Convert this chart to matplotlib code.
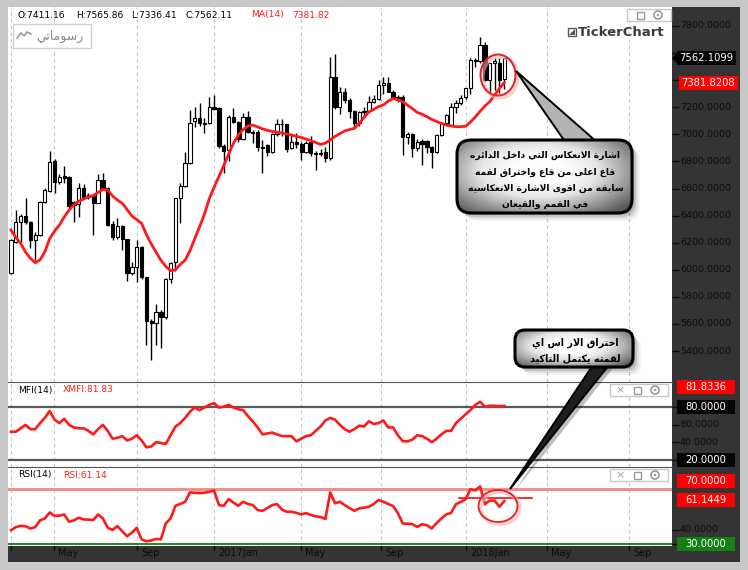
import numpy as np
import matplotlib
matplotlib.use("Agg")
import matplotlib.pyplot as plt
import matplotlib.transforms as mtransforms
from matplotlib.patches import Rectangle, FancyBboxPatch, Ellipse, Polygon
from matplotlib.colors import LinearSegmentedColormap

# ---------------- data (weekly candles) ----------------
open_ = [5976, 6207, 6355, 6397, 6355, 6220, 6257, 6502, 6580, 6803,
         6650, 6690, 6687, 6500, 6485, 6604, 6550, 6545, 6495, 6663,
         6604, 6338, 6244, 6325, 6225, 5974, 6018, 6170, 5944, 5624,
         5610, 5690, 5649, 5932, 6060, 6528, 6620, 6790, 7095, 7118,
         7086, 7086, 7204, 7196, 6914, 6884, 7130, 7093, 6968, 7130,
         7020, 7020, 6909, 6920, 6872, 7000, 7074, 7074, 6897, 6946,
         6930, 6872, 6940, 6860, 6858, 6872, 6823, 7426, 7204, 7315,
         7254, 7172, 7081, 7167, 7175, 7241, 7262, 7364, 7377, 7315,
         7278, 7278, 6982, 7000, 6897, 6950, 6950, 6909, 6872, 6995,
         7081, 7070, 7204, 7230, 7278, 7340, 7549, 7540, 7660, 7401,
         7525, 7525, 7411.16]
high = [6230, 6441, 6412, 6527, 6360, 6280, 6510, 6604, 6877, 6818,
        6710, 6766, 6695, 6510, 6643, 6636, 6570, 6555, 6710, 6717,
        6610, 6360, 6380, 6330, 6230, 6060, 6220, 6175, 5950, 5640,
        5750, 5700, 5940, 6060, 6530, 6640, 6870, 7180, 7204, 7229,
        7120, 7273, 7290, 7200, 6930, 7140, 7192, 7100, 7160, 7170,
        7030, 7030, 6958, 6930, 7010, 7110, 7110, 7080, 7000, 7010,
        6940, 6950, 6985, 6880, 6890, 6910, 7573, 7590, 7350, 7340,
        7270, 7180, 7170, 7200, 7280, 7290, 7400, 7420, 7420, 7330,
        7290, 7290, 7020, 7010, 6965, 6965, 6960, 6915, 7000, 7090,
        7150, 7230, 7250, 7290, 7345, 7560, 7560, 7721, 7680, 7530,
        7560, 7560, 7565.86]
low = [5970, 6200, 6205, 6340, 6160, 6072, 6250, 6495, 6575, 6567,
       6630, 6640, 6441, 6355, 6392, 6530, 6520, 6257, 6490, 6600,
       6320, 6220, 6230, 6146, 5917, 5960, 5910, 5930, 5444, 5333,
       5444, 5420, 5640, 5900, 5990, 6347, 6610, 6780, 7055, 7060,
       7010, 7080, 7180, 6900, 6714, 6800, 7085, 6940, 6960, 7010,
       6935, 6880, 6712, 6840, 6865, 6990, 6990, 6870, 6890, 6900,
       6810, 6860, 6840, 6740, 6840, 6795, 6810, 7190, 7150, 7230,
       7120, 7040, 7060, 7130, 7165, 7230, 7255, 7300, 7310, 7260,
       7240, 6847, 6930, 6835, 6880, 6773, 6860, 6749, 6865, 6990,
       7060, 7060, 7160, 7220, 7260, 7300, 7500, 7530, 7395, 7305,
       7330, 7305, 7336.41]
close = [6220, 6350, 6397, 6350, 6220, 6257, 6502, 6589, 6798, 6650,
         6687, 6680, 6471, 6478, 6604, 6537, 6537, 6495, 6663, 6604,
         6330, 6244, 6325, 6225, 5974, 6018, 6170, 5944, 5624, 5610,
         5690, 5649, 5932, 6052, 6528, 6620, 6790, 7086, 7118, 7086,
         7080, 7204, 7190, 6914, 6877, 7130, 7093, 6968, 7130, 7020,
         7010, 6909, 6900, 6872, 7000, 7074, 7080, 6890, 6946, 6930,
         6872, 6934, 6860, 6855, 6855, 6823, 7426, 7204, 7315, 7254,
         7172, 7081, 7167, 7175, 7241, 7262, 7364, 7377, 7315, 7278,
         7255, 6982, 7000, 6897, 6940, 6930, 6909, 6872, 6995, 7081,
         7143, 7204, 7230, 7266, 7340, 7549, 7540, 7660, 7401, 7525,
         7540, 7401, 7562.1099]
ma14 = [6293, 6240, 6195, 6130, 6085, 6052, 6072, 6133, 6230, 6285,
        6330, 6390, 6440, 6480, 6505, 6522, 6538, 6548, 6570, 6594,
        6589, 6545, 6515, 6491, 6445, 6397, 6370, 6343, 6260, 6190,
        6130, 6070, 6025, 5993, 6000, 6040, 6070, 6140, 6230, 6318,
        6410, 6525, 6610, 6690, 6770, 6855, 6934, 6995, 7035, 7062,
        7068, 7055, 7040, 7030, 7022, 7015, 7010, 7003, 6995, 6985,
        6977, 6965, 6953, 6940, 6925, 6935, 6958, 6985, 7005, 7025,
        7035, 7045, 7080, 7125, 7165, 7185, 7205, 7217, 7245, 7265,
        7255, 7241, 7215, 7190, 7162, 7148, 7130, 7110, 7095, 7080,
        7070, 7062, 7056, 7056, 7060, 7090, 7128, 7170, 7210, 7241,
        7290, 7340, 7381.8208]
mfi = [52, 52, 56, 60, 55, 55, 62, 68, 76, 66,
       62, 67, 60, 57, 56, 56, 53, 49, 55, 60,
       53, 44, 45, 47, 42, 44, 48, 42, 34, 35,
       40, 39, 38, 48, 58, 62, 68, 75, 80, 77,
       80, 83, 85, 80, 81, 83, 80, 78, 77, 70,
       64, 57, 49, 50, 51, 49, 47, 47, 47, 41,
       44, 47, 48, 53, 58, 65, 68, 66, 60, 55,
       52, 55, 59, 58, 64, 61, 62, 65, 57, 57,
       48, 41, 41, 43, 48, 47, 44, 40, 44, 49,
       53, 53, 62, 67, 72, 77, 83, 86.5, 81, 82,
       82, 81.5, 81.8336]
rsi = [39.8, 42, 43, 42.7, 41, 42, 47, 48.4, 52.8, 50.3,
       50.5, 51.3, 46, 47, 48.9, 47.7, 47.5, 47.2, 51.3, 48.4,
       41.5, 40, 42.7, 39, 35.4, 38, 41.5, 33, 31.7, 32.2,
       33.4, 33, 44.7, 48.4, 57.7, 59, 60.6, 67.5, 67.2, 67,
       67.3, 68, 68.8, 58.2, 57.7, 62.6, 60, 57.7, 60.6, 59,
       58.2, 54.5, 54, 56, 58.2, 58.9, 55, 53.3, 53.3, 52.5,
       51.3, 52.3, 51, 49.9, 49.5, 48, 67.5, 59.5, 60.6, 58.2,
       56, 54, 55.8, 56.3, 57, 59, 61.9, 60.6, 59, 57.5,
       52.3, 44.7, 44.5, 44.2, 42.2, 44.2, 43.4, 41, 45, 48.4,
       51.3, 52.5, 58.9, 60.5, 62.5, 69.8, 69, 71.9, 58.9, 61.5,
       61.5, 57, 61.1449]

x_grid = [0, 8.9, 26.05, 42, 60, 76.5, 94.1, 110.8, 127.8]
x_labels = ['', 'May', 'Sep', '2017Jan', 'May', 'Sep', '2018Jan', 'May', 'Sep']
price_ticks = [5400, 5600, 5800, 6000, 6200, 6400, 6600, 6800, 7000, 7200, 7400, 7600, 7800]
price_hidden = [7400, 7600]          # labels covered by the price boxes
mfi_ticks = [80, 60, 40, 20]
mfi_hidden = [80, 20]
rsi_ticks = [40, 30]
rsi_hidden = [30]

txt_big = ["اشارة الانعكاس التي داخل الدائره",
           "قاع اعلى من قاع واختراق لقمه",
           "سابقه من اقوى الاشارة الانعكاسيه",
           "في القمم والقيعان"]
txt_small = ["اختراق الار اس اي", "لقمته يكتمل التاكيد"]
txt_drawings = "رسوماتي"

# ---------------- minimal Arabic shaping (presentation forms, RTL) ----------------
DUAL = {'\u0626': 0xFE89, '\u0628': 0xFE8F, '\u062A': 0xFE95, '\u062B': 0xFE99,
        '\u062C': 0xFE9D, '\u062D': 0xFEA1, '\u062E': 0xFEA5, '\u0633': 0xFEB1,
        '\u0634': 0xFEB5, '\u0635': 0xFEB9, '\u0636': 0xFEBD, '\u0637': 0xFEC1,
        '\u0638': 0xFEC5, '\u0639': 0xFEC9, '\u063A': 0xFECD, '\u0641': 0xFED1,
        '\u0642': 0xFED5, '\u0643': 0xFED9, '\u0644': 0xFEDD, '\u0645': 0xFEE1,
        '\u0646': 0xFEE5, '\u0647': 0xFEE9, '\u064A': 0xFEF1}
RIGHT = {'\u0622': 0xFE81, '\u0623': 0xFE83, '\u0624': 0xFE85, '\u0625': 0xFE87,
         '\u0627': 0xFE8D, '\u0629': 0xFE93, '\u062F': 0xFEA9, '\u0630': 0xFEAB,
         '\u0631': 0xFEAD, '\u0632': 0xFEAF, '\u0648': 0xFEED, '\u0649': 0xFEEF}
LAMALEF = {'\u0627': 0xFEFB, '\u0622': 0xFEF5, '\u0623': 0xFEF7, '\u0625': 0xFEF9}


def shape_word(word):
    toks, i = [], 0
    while i < len(word):
        ch = word[i]
        if ch == '\u0644' and i + 1 < len(word) and word[i + 1] in LAMALEF:
            toks.append(('LA', word[i + 1])); i += 2
        else:
            toks.append(('C', ch)); i += 1

    def jl(t):
        return t[0] == 'C' and t[1] in DUAL

    def jr(t):
        return t[0] == 'LA' or t[1] in DUAL or t[1] in RIGHT

    out = []
    for k, t in enumerate(toks):
        pj = k > 0 and jl(toks[k - 1]) and jr(t)
        nj = k + 1 < len(toks) and jl(t) and jr(toks[k + 1])
        if t[0] == 'LA':
            out.append(chr(LAMALEF[t[1]] + (1 if pj else 0)))
        elif t[1] in DUAL:
            b = DUAL[t[1]]
            out.append(chr(b + (3 if (pj and nj) else 1 if pj else 2 if nj else 0)))
        elif t[1] in RIGHT:
            out.append(chr(RIGHT[t[1]] + (1 if pj else 0)))
        else:
            out.append(t[1])
    return ''.join(out)


def ar(text):
    return ' '.join(shape_word(w) for w in text.split(' '))[::-1]


# ---------------- figure ----------------
W, H = 748, 570
fig = plt.figure(figsize=(W / 100, H / 100), dpi=100)
fig.patch.set_facecolor('#c8c8c8')
DARK = '#343434'
TXT = '#0c0c0c'
RED = '#ff1a1a'

fig.add_artist(Rectangle((672 / W, 1 - 562 / H), 68 / W, 555 / H, transform=fig.transFigure,
                         fc=DARK, ec='none', zorder=-5))
fig.add_artist(Rectangle((8 / W, 1 - 562 / H), 732 / W, 16 / H, transform=fig.transFigure,
                         fc=DARK, ec='none', zorder=-5))


def pix_axes(x0, y0, x1, y1):
    a = fig.add_axes([x0 / W, 1 - y1 / H, (x1 - x0) / W, (y1 - y0) / H])
    a.set_facecolor('white')
    for s in a.spines.values():
        s.set_visible(False)
    a.set_xlim(-0.62, 136.68)
    for g in x_grid:
        a.axvline(g, color='#c4c4c4', lw=0.8, ls=(0, (3, 3)), zorder=0)
    a.yaxis.tick_right()
    return a


def right_ticks(a, ticks):
    a.set_yticks(ticks)
    a.set_yticklabels([])
    a.tick_params(axis='y', which='both', direction='out', length=5, width=1,
                  color='#0c0c0c', left=False, right=True, labelleft=False, labelright=False)


idx = np.arange(len(close))
o = np.array(open_, float); c = np.array(close, float)
hi = np.array(high, float); lo = np.array(low, float)

# main price panel
ax = pix_axes(8, 7, 672, 382)
ax.set_ylim(5171.1, 7940.3)
ax.set_xticks([])
right_ticks(ax, price_ticks)
ax.vlines(idx, lo, hi, color='black', lw=1, zorder=2)
blo = np.minimum(o, c); bhi = np.maximum(o, c)
ax.bar(idx, np.maximum(bhi - blo, 5), bottom=blo, width=0.68,
       color=np.where(c >= o, 'white', 'black'), edgecolor='black', lw=0.8, zorder=3)
ax.plot(idx, ma14, color=RED, lw=2, zorder=4)

# MFI panel
ax2 = pix_axes(8, 382, 672, 467)
ax2.set_ylim(11.35, 109.4)
ax2.set_xticks([])
right_ticks(ax2, mfi_ticks)
ax2.spines['top'].set_visible(True); ax2.spines['top'].set_color('#555555')
ax2.axhline(80, color='#5a5a5a', lw=1.6, zorder=1)
ax2.axhline(20, color='#5a5a5a', lw=1.6, zorder=1)
ax2.plot(idx, mfi, color=RED, lw=1.9, zorder=3)

# RSI panel
ax3 = pix_axes(8, 467, 672, 546)
ax3.set_ylim(28.17, 86.15)
right_ticks(ax3, rsi_ticks)
ax3.spines['top'].set_visible(True); ax3.spines['top'].set_color('#555555')
ax3.axhline(70, color='#f08888', lw=2, zorder=1)
ax3.axhline(30, color='#2a8a2a', lw=1.5, zorder=1)
ax3.plot(idx, rsi, color=RED, lw=1.9, zorder=3)
ax3.set_xticks(x_grid)
ax3.set_xticklabels([])
ax3.tick_params(axis='x', direction='out', length=3, width=1, color='#0c0c0c')

# ---------------- overlay in pixel coordinates ----------------
ov = fig.add_axes([0, 0, 1, 1], zorder=20)
ov.set_xlim(0, W); ov.set_ylim(H, 0); ov.axis('off')


def py(a, v):
    return H - a.transData.transform((0, v))[1]


def px(a, v):
    return a.transData.transform((v, 0))[0]


# axis labels drawn in the dark panels
for a, ticks, hidden in ((ax, price_ticks, price_hidden), (ax2, mfi_ticks, mfi_hidden),
                         (ax3, rsi_ticks, rsi_hidden)):
    for v in ticks:
        if v not in hidden:
            ov.text(680, py(a, v), f"{v:.4f}", color=TXT, fontsize=6.8, ha='left',
                    va='center', zorder=2)
for g, lab in zip(x_grid, x_labels):
    if lab:
        ov.text(px(ax3, g) + 4, 553.5, lab, color=TXT, fontsize=7, ha='left',
                va='center', zorder=2)


def vbox(yc, text, fc, x0=677, x1=735, h=14, arrow=False):
    ov.add_patch(Rectangle((x0, yc - h / 2), x1 - x0, h, fc=fc, ec='none', zorder=5))
    if arrow:
        ov.add_patch(Polygon([(x0 - 5, yc), (x0 + 1, yc - 6), (x0 + 1, yc + 6)], fc=fc, ec='none', zorder=5))
    ov.text((x0 + x1) / 2, yc, text, color='white', fontsize=7.2, ha='center', va='center', zorder=6)


vbox(py(ax, close[-1]), f"{close[-1]:.4f}", '#050505', 677, 736, arrow=True)
vbox(py(ax, ma14[-1]), f"{ma14[-1]:.4f}", '#ff0000', 679, 738)
vbox(py(ax2, 80) - 20, f"{mfi[-1]:.4f}", '#ff0000')
vbox(py(ax2, 80), "80.0000", '#050505')
vbox(py(ax2, 20), "20.0000", '#050505')
vbox(py(ax3, 70) - 8, "70.0000", '#ff0000')
vbox(py(ax3, rsi[-1]) - 1, f"{rsi[-1]:.4f}", '#ff0000')
vbox(py(ax3, 30), "30.0000", '#128012')

# header texts
hy = 15
ov.text(18, hy, f"O:{open_[-1]:.2f}", fontsize=6.6, color='black', va='center')
ov.text(76, hy, f"H:{high[-1]:.2f}", fontsize=6.6, color='black', va='center')
ov.text(131, hy, f"L:{low[-1]:.2f}", fontsize=6.6, color='black', va='center')
ov.text(186, hy, f"C:{close[-1]:.2f}", fontsize=6.6, color='black', va='center')
ov.text(251, hy, "MA(14)", fontsize=6.6, color=RED, va='center')
ov.text(292, hy, f"{ma14[-1]:.2f}", fontsize=6.6, color=RED, va='center')
ov.text(18, 390, "MFI(14)", fontsize=6.6, color='black', va='center')
ov.text(63, 390, f"XMFI:{mfi[-1]:.2f}", fontsize=6.6, color=RED, va='center')
ov.text(18, 475, "RSI(14)", fontsize=6.6, color='black', va='center')
ov.text(63, 475, f"RSI:{rsi[-1]:.2f}", fontsize=6.6, color=RED, va='center')

# drawings box (top-left)
ov.add_patch(Rectangle((13, 24), 78, 24, fc='white', ec='#d0d0d0', lw=1, zorder=3))
ov.plot([17, 21, 24, 27, 31], [38, 33, 36, 32, 34], color='#9a9a9a', lw=1.2, zorder=4)
ov.text(60, 36, ar(txt_drawings), fontsize=9, color='#8a8a8a', ha='center', va='center',
        family=['DejaVu Sans'], zorder=4)


# window-control boxes
def ctrl(x0, y0, x1, y1, with_x):
    ov.add_patch(Rectangle((x0, y0), x1 - x0, y1 - y0, fc='white', ec='#c8c8c8', lw=1, zorder=3))
    yc = (y0 + y1) / 2
    if with_x:
        ov.text(x0 + 10, yc, '×', fontsize=8, color='#a0a0a0', ha='center', va='center', zorder=4)
    ov.add_patch(Rectangle((x1 - 34, yc - 3.5), 7, 7, fc='white', ec='#9a9a9a', lw=1, zorder=4))
    ov.add_patch(Ellipse((x1 - 13, yc), 8, 8, fc='white', ec='#9a9a9a', lw=1.2, zorder=4))
    ov.add_patch(Ellipse((x1 - 13, yc), 2.5, 2.5, fc='#9a9a9a', ec='none', zorder=4))


ctrl(627, 9, 671, 21, False)
ctrl(610, 384, 668, 396, True)
ctrl(610, 469, 668, 481, True)

# TickerChart logo
ov.add_patch(Rectangle((568, 28), 8, 8, fc='white', ec='#555555', lw=1, zorder=4))
ov.add_patch(Polygon([(569, 35), (575, 29), (575, 35)], fc='#555555', ec='none', zorder=4))
ov.text(578, 32.5, "TickerChart", fontsize=9.5, fontweight='bold', color='#3c3c3c',
        va='center', zorder=4)

# red circle marks
ov.add_patch(Ellipse((500, 77), 35, 41, fill=False, ec='#f2b4b4', lw=3, alpha=0.6, zorder=6))
ov.add_patch(Ellipse((498, 75), 35, 41, fill=False, ec='#e82020', lw=1.4, zorder=7))
ov.plot([459, 532], [498, 498], color=RED, lw=1.3, zorder=6)
ov.add_patch(Ellipse((500, 508), 39, 32, fill=False, ec='#f2b4b4', lw=3, alpha=0.6, zorder=6))
ov.add_patch(Ellipse((498, 506), 39, 32, fill=False, ec='#e82020', lw=1.3, zorder=7))

# callout bubbles
gcmap = LinearSegmentedColormap.from_list('bub', ['#ffffff', '#fdfdfd', '#e6e6e6', '#a0a0a0', '#5a5a5a'])


def bubble(x0, y0, w, h, r, tail, tail_fc, lines, line_y, fs):
    bs = f"round,pad=0,rounding_size={r}"
    for k, a in ((8, 0.05), (6, 0.08), (4, 0.12), (2, 0.15)):
        ov.add_patch(FancyBboxPatch((x0 + k, y0 + k), w, h, boxstyle=bs, fc='black', ec='none',
                                    alpha=a, zorder=8))
    ts = [(p + 4, q + 3) for p, q in tail]
    ov.add_patch(Polygon(ts, closed=True, fc='black', ec='none', alpha=0.25, zorder=8))
    ov.add_patch(Polygon(tail, closed=True, fc=tail_fc, ec='black', lw=1.4, zorder=9))
    body = FancyBboxPatch((x0, y0), w, h, boxstyle=bs, fc='none', ec='black', lw=2.2, zorder=11)
    ov.add_patch(body)
    yy, xx = np.mgrid[0:1:120j, 0:1:240j]
    d = np.sqrt(((xx - 0.47) / 0.6) ** 2 + ((yy - 0.42) / 0.66) ** 2)
    im = ov.imshow(d, cmap=gcmap, vmin=0, vmax=1.12, extent=(x0, x0 + w, y0 + h, y0),
                   aspect='auto', zorder=10, interpolation='bilinear')
    im.set_clip_path(body)
    cx = x0 + w / 2 + 1
    for t, yy_ in zip(lines, line_y):
        ov.text(cx, yy_, ar(t), fontsize=fs, fontweight='bold', color='black', ha='center',
                va='center', family=['DejaVu Sans'], zorder=12)


bubble(457, 140, 175, 73, 14, [(516, 71), (566, 143), (598, 143)], '#b4b4b4',
       txt_big, [155, 172, 188, 204], 6.6)
bubble(515, 330, 118, 37, 10, [(510, 489), (593, 365), (609, 365)], '#1e1e1e',
       txt_small, [343, 358], 6.9)

ov.set_xlim(0, W); ov.set_ylim(H, 0)

fig.savefig('out.png', dpi=100, facecolor=fig.get_facecolor())
